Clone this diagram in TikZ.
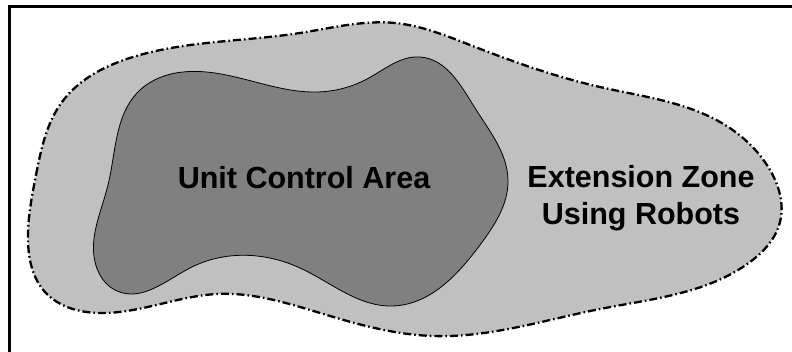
\documentclass[tikz,border=0pt]{standalone}
\usepackage{fontspec}
\setmainfont{Liberation Sans}
\usetikzlibrary{hobby}
\begin{document}
\begin{tikzpicture}[x=1pt,y=-1pt,
  outerzone/.style={fill=lightfill, draw=black, line width=2.3pt, dash pattern=on 8pt off 3pt on 1.6pt off 3pt},
  innerzone/.style={fill=darkfill, draw=black, line width=0.8pt},
  lbl/.style={font=\bfseries\fontsize{30.5}{37}\selectfont, align=center, inner sep=0pt, anchor=base}]
\definecolor{lightfill}{HTML}{C0C0C0}
\definecolor{darkfill}{HTML}{808080}
\useasboundingbox (0,0) rectangle (792,352);
\draw[line width=2.5pt] (9.5,360) -- (9.5,6.5) -- (800,6.5);
\draw[outerzone] plot[closed hobby] coordinates {(36,175) (62,102) (133,57) (300,33) (395,23)
 (470,45) (600,87) (720,122) (770,170) (780,222) (750,262)
 (600,309) (433,336) (330,316) (217,294) (100,313) (45,292)
 (28,240)};
\draw[innerzone] plot[closed hobby] coordinates {(108,185) (140,90) (183,72) (317,92)
 (367,79) (420,57) (475,108) (508,180) (480,245) (392,306)
 (300,268) (257,256) (190,268) (117,291) (95,262)};
\node[lbl] (uca) at (304,189) {Unit Control Area};
\node[lbl] (ext) at (641,225) {Extension Zone\\Using Robots};
\end{tikzpicture}
\end{document}
